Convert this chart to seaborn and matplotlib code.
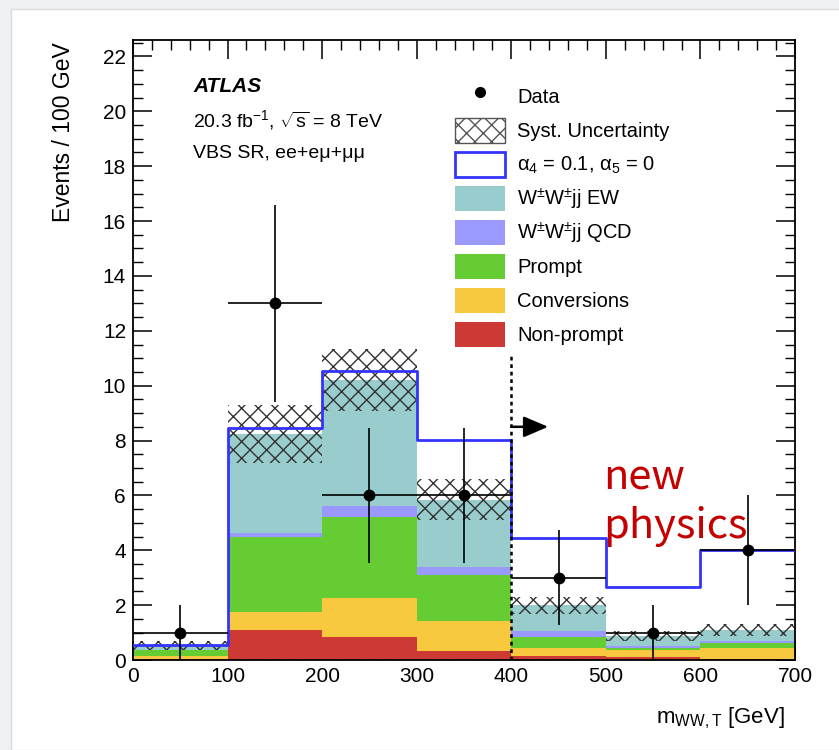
import numpy as np
import pandas as pd
import matplotlib
matplotlib.use("Agg")
import matplotlib.pyplot as plt
import seaborn as sns
from matplotlib.patches import Patch, Rectangle
from matplotlib.lines import Line2D
from matplotlib.legend_handler import HandlerPatch
from matplotlib.ticker import MultipleLocator

# ---------------- data ----------------
edges = [0, 100, 200, 300, 400, 500, 600, 700]
centers = [50, 150, 250, 350, 450, 550, 650]
nonprompt = [0.05, 1.10, 0.84, 0.33, 0.15, 0.10, 0.03]
conversions = [0.10, 0.65, 1.42, 1.09, 0.29, 0.26, 0.41]
prompt = [0.20, 2.75, 2.96, 1.68, 0.41, 0.08, 0.18]
ww_qcd = [0.03, 0.13, 0.38, 0.30, 0.22, 0.06, 0.08]
ww_ew = [0.15, 3.60, 4.60, 2.45, 0.93, 0.37, 0.40]
syst_unc = [0.15, 1.05, 1.12, 0.73, 0.31, 0.18, 0.22]
signal = [0.55, 8.45, 10.55, 8.03, 4.45, 2.65, 4.00]
data_vals = [1, 13, 6, 6, 3, 1, 4]
data_err = [1.0, 3.6, 2.45, 2.45, 1.73, 1.0, 2.0]

labels_stack = [r"$\mathregular{W^{\pm}W^{\pm}}$jj EW", r"$\mathregular{W^{\pm}W^{\pm}}$jj QCD",
                "Prompt", "Conversions", "Non-prompt"]
colors_stack = ["#99cccc", "#9999ff", "#66cc33", "#f8c93f", "#cc3a33"]
comp_values = [ww_ew, ww_qcd, prompt, conversions, nonprompt]

# ---------------- style ----------------
sns.set_theme(style="ticks")
plt.rcParams["font.family"] = ["Liberation Sans", "DejaVu Sans"]
plt.rcParams["text.color"] = "black"
plt.rcParams["mathtext.fontset"] = "custom"
plt.rcParams["mathtext.rm"] = "Liberation Sans"
plt.rcParams["mathtext.it"] = "Liberation Sans:italic"
plt.rcParams["mathtext.bf"] = "Liberation Sans:bold"
plt.rcParams["hatch.linewidth"] = 1.0
plt.rcParams["hatch.color"] = "#333333"

fig = plt.figure(figsize=(8.39, 7.5), dpi=100)
fig.patch.set_facecolor("#eef1f3")
fig.patches.append(Rectangle((11 / 839, 0), 1, 741 / 750, transform=fig.transFigure,
                             facecolor="white", edgecolor="#d8dcdf", linewidth=1, zorder=-5))

ax = fig.add_axes([133 / 839, 1 - 660 / 750, (795 - 133) / 839, (660 - 40) / 750])
ax.set_facecolor("white")
ax.set_zorder(2)

# stacked histogram
rows = []
for lab, vals in zip(labels_stack, comp_values):
    for c, v in zip(centers, vals):
        rows.append({"x": c, "w": v, "comp": lab})
df = pd.DataFrame(rows)
sns.histplot(data=df, x="x", weights="w", hue="comp", hue_order=labels_stack,
             palette=dict(zip(labels_stack, colors_stack)), bins=edges,
             multiple="stack", element="bars", linewidth=0, alpha=1,
             legend=False, ax=ax, zorder=1)

# systematic band
total = np.sum(np.array(comp_values), axis=0)
unc = np.array(syst_unc)
ax.bar(centers, 2 * unc, bottom=total - unc, width=100, fill=False, hatch="xx",
       linewidth=0, edgecolor="#333333", zorder=2)

# signal
sig_df = pd.DataFrame({"x": centers, "w": signal})
sns.histplot(data=sig_df, x="x", weights="w", bins=edges, element="step", fill=False,
             color="#3333ff", linewidth=2, ax=ax, zorder=3)

# dotted line & arrow
ax.plot([400, 400], [0, 11.15], ls=(0, (1.5, 1.5)), color="black", lw=1.8, zorder=4)
ax.annotate("", xy=(439, 8.5), xytext=(400, 8.5),
            arrowprops=dict(arrowstyle="-|>,head_length=0.75,head_width=0.32", color="black",
                            lw=1.8, shrinkA=0, shrinkB=0, mutation_scale=20), zorder=4)

# data
ax.errorbar(centers, data_vals, yerr=data_err, xerr=50, fmt="o", color="black",
            markersize=7.5, elinewidth=1.2, capsize=0, zorder=5)

ax.set_xlim(0, 700)
ax.set_ylim(0, 22.6)
ax.xaxis.set_major_locator(MultipleLocator(100))
ax.xaxis.set_minor_locator(MultipleLocator(20))
ax.yaxis.set_major_locator(MultipleLocator(2))
ax.yaxis.set_minor_locator(MultipleLocator(0.5))
ax.tick_params(which="both", direction="in", top=True, right=True, labelsize=15,
               color="black", labelcolor="black")
ax.tick_params(which="major", length=14, width=1.1, pad=5)
ax.tick_params(which="minor", length=7, width=1.0)
for s in ax.spines.values():
    s.set_linewidth(1.3)
    s.set_color("black")
ax.set_xlabel("")
ax.set_ylabel("")

fig.text(63 / 839, 1 - 42 / 750, "Events / 100 GeV", rotation=90, ha="center", va="top", fontsize=16.5)
fig.text(785 / 839, 1 - 718 / 750, r"$\mathregular{m_{WW,T}}$ [GeV]", ha="right", va="center", fontsize=16)

# labels
fig.text(193 / 839, 1 - 87 / 750, "ATLAS", fontsize=15, fontweight="bold", fontstyle="italic",
         va="center", zorder=10)
fig.text(193 / 839, 1 - 120 / 750, r"20.3 fb$\mathregular{^{-1}}$, $\mathregular{\sqrt{s}}$ = 8 TeV",
         fontsize=14, va="center", zorder=10)
fig.text(193 / 839, 1 - 153 / 750, "VBS SR, ee+eμ+μμ", fontsize=14, va="center", zorder=10)

fig.text(603 / 839, 1 - 490 / 750, "new", fontsize=30, color="#c40000",
         family=["Noto Sans CJK JP", "DejaVu Sans"], va="baseline", zorder=10)
fig.text(603 / 839, 1 - 538 / 750, "physics", fontsize=30, color="#c40000",
         family=["Noto Sans CJK JP", "DejaVu Sans"], va="baseline", zorder=10)


# legend
def small_rect(legend, orig_handle, xdescent, ydescent, width, height, fontsize):
    h = height * 0.86
    return Rectangle((-xdescent, -ydescent + (height - h) / 2), width, h)


handles = [
    Line2D([], [], marker="o", color="black", linestyle="none", markersize=7),
    Patch(facecolor="white", edgecolor="#555555", hatch="xx", linewidth=1),
    Patch(facecolor="white", edgecolor="#3333ff", linewidth=2),
] + [Patch(facecolor=c, edgecolor="none") for c in colors_stack]
labels = ["Data", "Syst. Uncertainty", r"$\mathregular{α_4}$ = 0.1, $\mathregular{α_5}$ = 0"] + labels_stack
ax.legend(handles, labels, loc="upper left",
          bbox_to_anchor=((455 - 133) / 662, (660 - 82) / 620), frameon=False,
          fontsize=14.5, borderpad=0, borderaxespad=0, handlelength=2.5, handleheight=1.84,
          handletextpad=0.6, labelspacing=0.25,
          handler_map={Patch: HandlerPatch(patch_func=small_rect)})

fig.savefig("out.png", dpi=100, facecolor=fig.get_facecolor())
